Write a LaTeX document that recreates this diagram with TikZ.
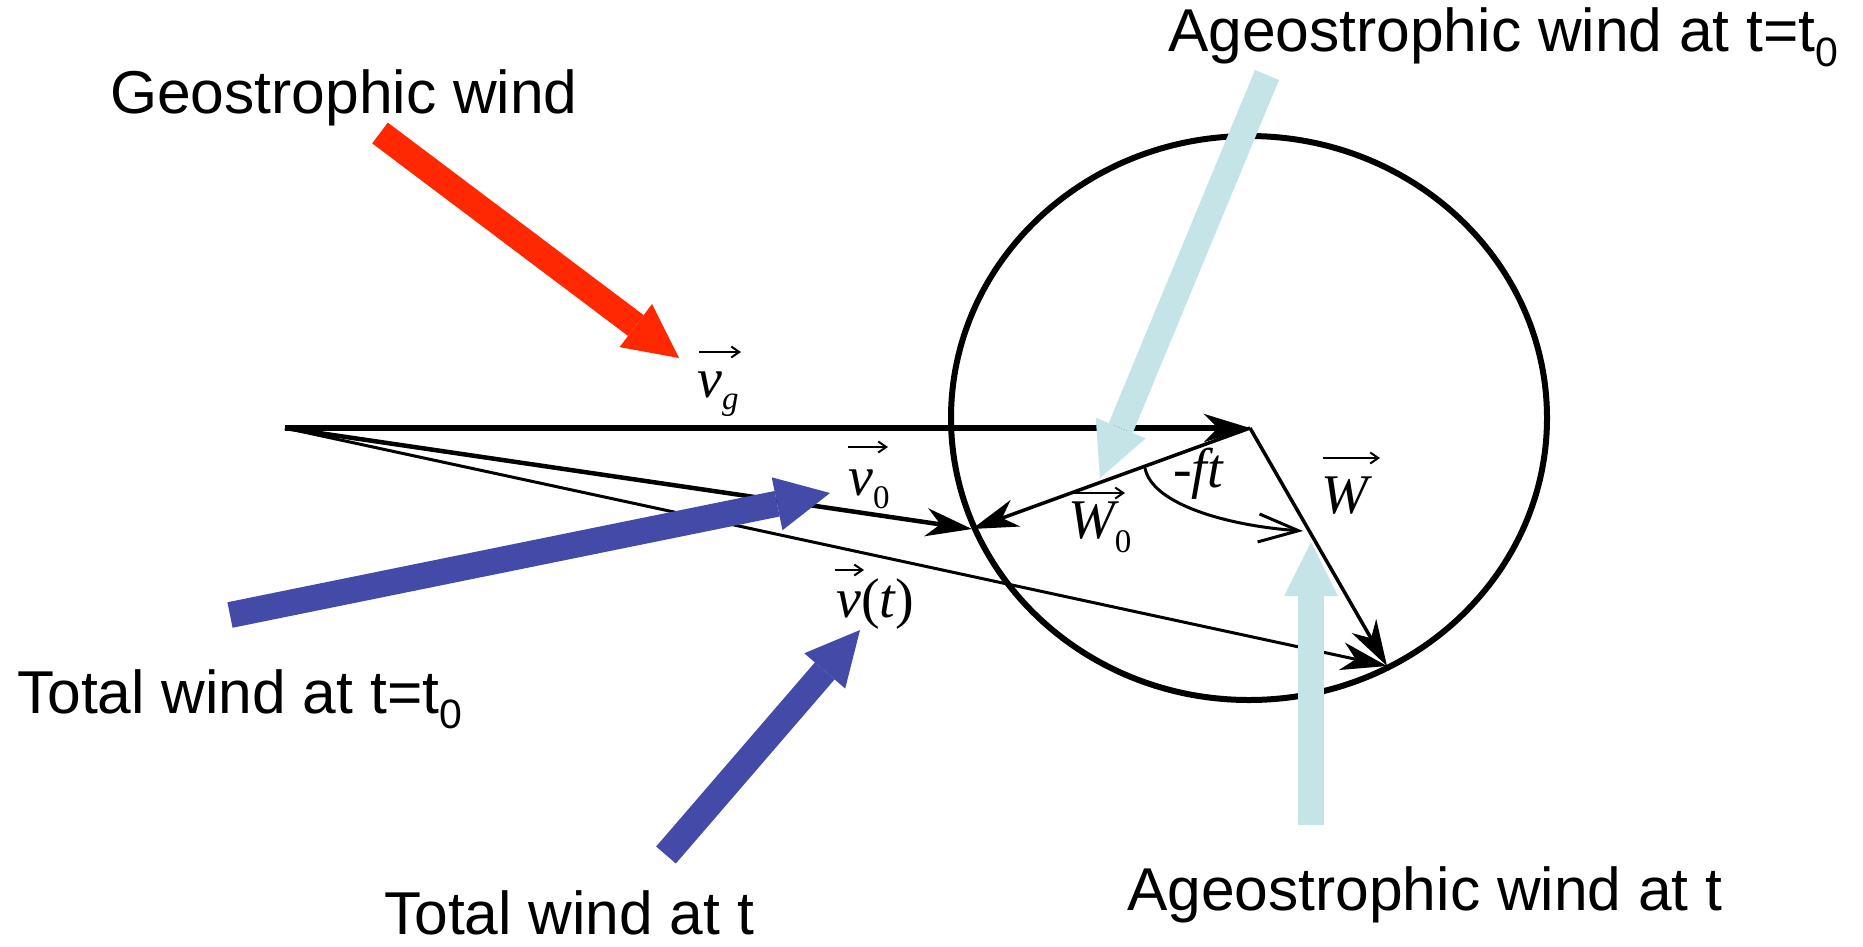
\documentclass[tikz,border=0pt]{standalone}
\usepackage{fontspec}
\setmainfont{Liberation Sans}
\newfontfamily\mathserif{Liberation Serif}
\usetikzlibrary{arrows.meta}
\definecolor{geored}{RGB}{255,40,0}
\definecolor{totblue}{RGB}{67,74,168}
\definecolor{ageocyan}{RGB}{196,228,232}
\newcommand\subz[1]{\raisebox{-15pt}{\fontsize{41}{41}\selectfont #1}}
\newcommand\msub[2]{\raisebox{-#1}{\fontsize{33}{33}\selectfont #2}}
\begin{document}
\begin{tikzpicture}[x=1pt,y=1pt,
  bigtext/.style={font=\fontsize{60.5}{70}\selectfont, inner sep=0pt, anchor=base west},
  mlab/.style={font=\fontsize{56}{60}\selectfont\mathserif\itshape, inner sep=0pt, anchor=base west},
  windvec/.style={line width=#1, -{Stealth[length=46pt,width=28pt,inset=14pt]}},
  overarrow/.style={line width=2pt, -{Straight Barb[length=8pt,width=11pt]}},
  fatarrow/.style={line width=26pt, -{Triangle[length=54pt,width=54pt,line width=0pt]}}]
\useasboundingbox (0,0) rectangle (1863,-946);
\fill[white] (0,0) rectangle (1863,-946);
% diagram points
\coordinate (O) at (285,-428);
\coordinate (G) at (1250,-428);
\coordinate (A0) at (972,-529);
\coordinate (At) at (1387,-666);
\coordinate (C) at (1249,-418);
\draw[line width=6pt] (C) ellipse [x radius=298pt, y radius=282pt];
\draw[windvec=3pt] (O) -- (At);
\draw[windvec=4.5pt] (O) -- (A0);
\draw[windvec=6pt] (O) -- (G);
\draw[windvec=3.5pt] (G) -- (A0);
\draw[windvec=3.5pt] (G) -- (At);
\coordinate (ftS) at (1145,-468);
\coordinate (ftE) at (1303,-531);
\draw[line width=3pt, -{Straight Barb[length=40pt,width=28pt]}] (ftS) .. controls (1152,-505) and (1230,-526) .. (ftE);
% vector labels
\node[mlab] (vg) at (697,-397) {v\msub{12pt}{g}};
\draw[overarrow] ([shift={(2,45)}]vg.base west) -- ([shift={(44,45)}]vg.base west);
\node[mlab] (v0) at (848,-495) {v\msub{13pt}{\upshape 0}};
\draw[overarrow] ([shift={(0,48)}]v0.base west) -- ([shift={(40,48)}]v0.base west);
\node[mlab] (vt) at (836,-617) {v{\upshape(}t{\upshape)}};
\draw[overarrow] ([shift={(-1,47)}]vt.base west) -- ([shift={(28,47)}]vt.base west);
\node[mlab] (W0) at (1068,-538) {W\msub{14pt}{\upshape 0}};
\draw[overarrow] ([shift={(4,45)}]W0.base west) -- ([shift={(57,45)}]W0.base west);
\node[mlab] (Wl) at (1321,-513) {W};
\draw[overarrow] ([shift={(2,55)}]Wl.base west) -- ([shift={(59,55)}]Wl.base west);
\node[mlab] (ft) at (1173,-487) {-ft};
% pointer arrows
\coordinate (redS) at (380,-133);  \coordinate (redT) at (679,-358);
\coordinate (b1S) at (230,-615);   \coordinate (b1T) at (830,-493);
\coordinate (b2S) at (666,-855);   \coordinate (b2T) at (860,-630);
\coordinate (c1S) at (1267,-75);   \coordinate (c1T) at (1100,-478);
\coordinate (c2S) at (1311,-825);  \coordinate (c2T) at (1311,-542);
\draw[fatarrow, draw=geored] (redS) -- (redT);
\draw[fatarrow, draw=totblue] (b1S) -- (b1T);
\draw[fatarrow, draw=totblue] (b2S) -- (b2T);
\draw[fatarrow, draw=ageocyan] (c1S) -- (c1T);
\draw[fatarrow, draw=ageocyan] (c2S) -- (c2T);
% texts
\node[bigtext] (geo) at (110,-113) {Geostrophic wind};
\node[bigtext] (ageo0) at (1168,-51) {Ageostrophic wind at t=t\subz{0}};
\node[bigtext] (tot0) at (17,-713) {Total wind at t=t\subz{0}};
\node[bigtext] (tott) at (384,-934) {Total wind at t};
\node[bigtext] (ageot) at (1127,-910) {Ageostrophic wind at t};
\end{tikzpicture}
\end{document}
